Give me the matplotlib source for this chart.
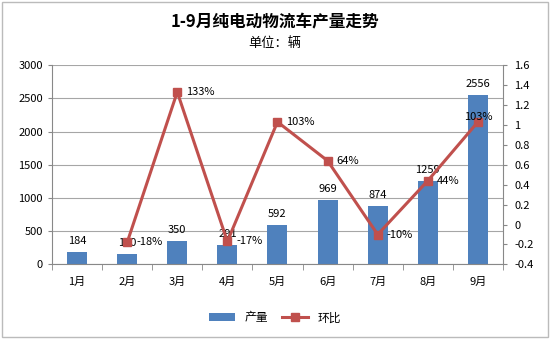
import numpy as np
import matplotlib.pyplot as plt

plt.rcParams['font.family'] = ['Noto Sans CJK SC', 'DejaVu Sans']

months = ["1月", "2月", "3月", "4月", "5月", "6月", "7月", "8月", "9月"]
output = [184, 150, 350, 291, 592, 969, 874, 1259, 2556]
# month-on-month change, no value for January
mom = [np.nan, -0.18, 1.33, -0.17, 1.03, 0.64, -0.10, 0.44, 1.03]
mom_labels = ["", "-18%", "133%", "-17%", "103%", "64%", "-10%", "44%", "103%"]

bar_color = "#4F81BD"
line_color = "#C0504D"

fig = plt.figure(figsize=(5.5, 3.39), dpi=100)
ax = fig.add_axes([0.0945, 0.22, 0.82, 0.588])
x = np.arange(len(months))

bars = ax.bar(x, output, width=0.4, color=bar_color, zorder=2, label="产量")
ax.set_ylim(0, 3000)
ax.set_yticks(range(0, 3001, 500))
ax.set_xlim(-0.5, len(months) - 0.5)
ax.set_xticks(x)
ax.set_xticklabels(months)
ax.yaxis.grid(True, color="#a6a6a6", lw=0.8, zorder=0)
ax.tick_params(labelsize=8, length=3, color="#888888")
ax.tick_params(axis='x', pad=9)
for s in ["top", "right"]:
    ax.spines[s].set_visible(False)
for s in ["left", "bottom"]:
    ax.spines[s].set_color("#888888")
ax.set_xticks(np.arange(-0.5, len(months)), minor=True)
ax.tick_params(axis='x', which='major', length=0)
ax.tick_params(axis='x', which='minor', length=4, color="#888888")

for xi, v in zip(x, output):
    ax.text(xi, v + 90, str(v), ha="center", va="bottom", fontsize=8)

ax2 = ax.twinx()
ax2.plot(x, mom, color=line_color, lw=2.2, marker="s", markersize=6, zorder=3, label="环比")
ax2.set_ylim(-0.4, 1.6)
ticks2 = np.round(np.arange(-0.4, 1.61, 0.2), 1)
ax2.set_yticks(ticks2)
ax2.set_yticklabels([f"{t:g}" for t in ticks2])
ax2.tick_params(labelsize=8, length=3, color="#888888", pad=5)
for s in ["top", "left", "bottom"]:
    ax2.spines[s].set_visible(False)
ax2.spines["right"].set_color("#888888")
for i, (xi, v, lab) in enumerate(zip(x, mom, mom_labels)):
    if not lab:
        continue
    if i == len(months) - 1:
        ax2.text(xi, v + 0.05, lab, ha="center", va="center", fontsize=8)
    else:
        ax2.text(xi + 0.18, v, lab, ha="left", va="center", fontsize=8)

fig.text(0.5, 0.935, "1-9月纯电动物流车产量走势", ha="center", va="center",
         fontsize=12, fontweight="bold")
fig.text(0.5, 0.872, "单位：辆", ha="center", va="center", fontsize=9.5)

h1, l1 = ax.get_legend_handles_labels()
h2, l2 = ax2.get_legend_handles_labels()
fig.legend(h1 + h2, l1 + l2, loc="center", bbox_to_anchor=(0.5, 0.062), ncol=2,
           frameon=False, fontsize=8.5, handlelength=2.2, columnspacing=1.2)

fig.patches.append(plt.Rectangle((0.003, 0.005), 0.994, 0.99, transform=fig.transFigure,
                                 fill=False, ec="#bbbbbb", lw=1))

fig.savefig("out.png", dpi=100)
